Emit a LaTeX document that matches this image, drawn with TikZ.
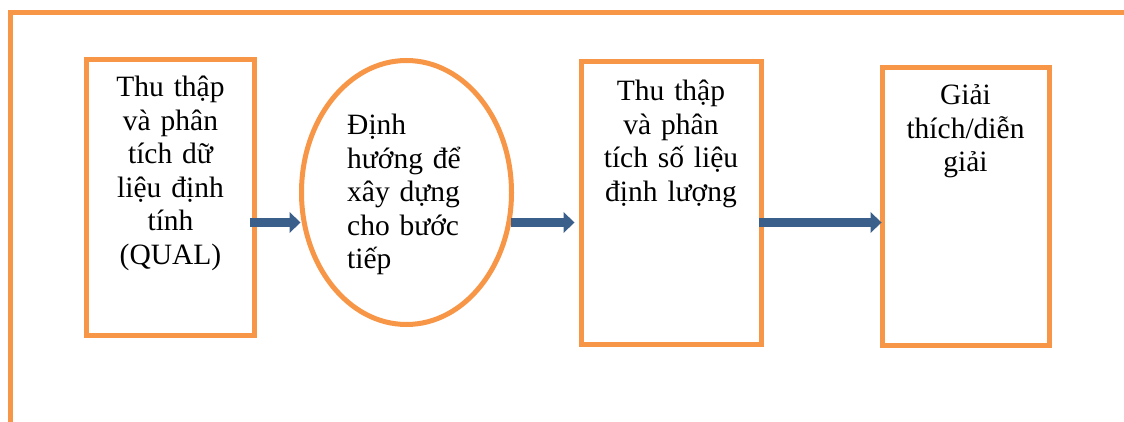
\documentclass[tikz,border=0pt]{standalone}
\usepackage{fontspec}
\setmainfont{Liberation Serif}
\usetikzlibrary{arrows.meta,shapes.geometric}
\definecolor{frameorange}{HTML}{F79646}
\definecolor{flowblue}{HTML}{3A5F8B}
\tikzset{
  stage/.style={draw=frameorange, line width=5pt, rectangle, inner sep=0pt},
  oval/.style={draw=frameorange, line width=5pt, ellipse, inner sep=0pt},
  caption/.style={inner sep=0pt, font={\fontsize{29.5}{33.5}\selectfont\lineskiplimit=-50pt}},
  flow/.style={draw=flowblue, line width=9pt, -{Triangle[width=21pt,length=11pt,line width=0pt]}, flowblue},
}
\begin{document}
\begin{tikzpicture}[x=1pt,y=-1pt]
\useasboundingbox (0,0) rectangle (1124,422);
% outer frame: left and top rules
\draw[frameorange, line width=5pt] (10.5,422) -- (10.5,12.5) -- (1124,12.5);

% stages
\node[stage, minimum width=168pt, minimum height=276pt] (b1) at (170.5,197.5) {};
\node[oval, minimum width=210pt, minimum height=264pt] (el) at (406.5,192.5) {};
\node[stage, minimum width=180pt, minimum height=282pt] (b3) at (671,203) {};
\node[stage, minimum width=167pt, minimum height=277pt] (b4) at (965.5,206.5) {};

% texts
\node[caption, text width=150pt, align=center, anchor=base] (t1) at (170.5,97)
  {Thu thập\\và phân\\tích dữ\\liệu định\\tính\\(QUAL)};
\node[caption, text width=130pt, align=left, anchor=base west] (t2) at (347,135)
  {Định\\hướng để\\xây dựng\\cho bước\\tiếp};
\node[caption, text width=165pt, align=center, anchor=base] (t3) at (671,101)
  {Thu thập\\và phân\\tích số liệu\\định lượng};
\node[caption, text width=150pt, align=center, anchor=base] (t4) at (965.5,105)
  {Giải\\thích/diễn\\giải};

% flow arrows
\draw[flow, shorten <=-7.5pt, shorten >=-1.5pt] (b1.east |- 0,222.5) -- (el.west |- 0,222.5);
\draw[flow, shorten <=-3pt, shorten >=4pt] (el.east |- 0,222.5) -- (b3.west |- 0,222.5);
\draw[flow, shorten <=-5pt, shorten >=-2pt] (b3.east |- 0,222.5) -- (b4.west |- 0,222.5);
\end{tikzpicture}
\end{document}
